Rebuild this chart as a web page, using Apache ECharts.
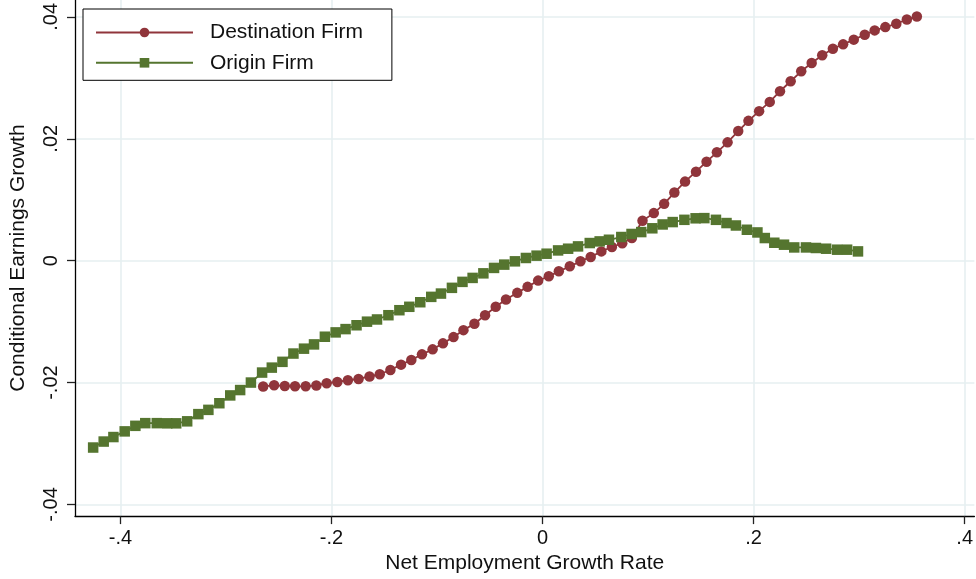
<!DOCTYPE html>
<html>
<head>
<meta charset="utf-8">
<script src="https://cdn.jsdelivr.net/npm/echarts@6/dist/echarts.min.js"></script>
<style>
html,body{margin:0;padding:0;background:#fff;}
#chart{width:976px;height:579px;}
</style>
</head>
<body>
<div id="chart"></div>
<script>
// ---- Data ----
const destX = [-0.2648,-0.2544,-0.2443,-0.2346,-0.2245,-0.2144,-0.2046,-0.1945,-0.1845,-0.1744,
  -0.1640,-0.1543,-0.1442,-0.1341,-0.1244,-0.1143,-0.1042,-0.0944,-0.0844,-0.0750,
  -0.0646,-0.0545,-0.0444,-0.0347,-0.0240,-0.0142,-0.0042,0.0059,0.0154,0.0258,
  0.0359,0.0456,0.0557,0.0657,0.0755,0.0846,0.0947,0.1054,0.1152,0.1249,
  0.1350,0.1454,0.1554,0.1652,0.1753,0.1854,0.1951,0.2052,0.2153,0.2250,
  0.2351,0.2451,0.2550,0.2650,0.2751,0.2848,0.2949,0.3053,0.3147,0.3248,
  0.3352,0.3452,0.3547];
const destY = [-0.02064,-0.02044,-0.02056,-0.02061,-0.02061,-0.02047,-0.02011,-0.01990,-0.01962,-0.01941,
  -0.01900,-0.01864,-0.01794,-0.01706,-0.01630,-0.01537,-0.01455,-0.01357,-0.01254,-0.01140,
  -0.01034,-0.00895,-0.00757,-0.00638,-0.00528,-0.00430,-0.00327,-0.00257,-0.00175,-0.00093,
  -0.00011,0.00061,0.00152,0.00224,0.00286,0.00371,0.00654,0.00780,0.00932,0.01117,
  0.01297,0.01460,0.01624,0.01778,0.01941,0.02126,0.02294,0.02453,0.02605,0.02780,
  0.02944,0.03107,0.03243,0.03369,0.03478,0.03549,0.03626,0.03707,0.03778,0.03832,
  0.03887,0.03957,0.04006];

const origX = [-0.4259,-0.4159,-0.4067,-0.3960,-0.3859,-0.3765,-0.3656,-0.3557,-0.3472,-0.3368,
  -0.3262,-0.3167,-0.3063,-0.2960,-0.2866,-0.2764,-0.2658,-0.2566,-0.2465,-0.2361,
  -0.2261,-0.2166,-0.2063,-0.1961,-0.1867,-0.1763,-0.1664,-0.1569,-0.1461,-0.1357,
  -0.1263,-0.1159,-0.1055,-0.0963,-0.0859,-0.0759,-0.0663,-0.0561,-0.0460,-0.0363,
  -0.0262,-0.0158,-0.0057,0.0038,0.0147,0.0242,0.0336,0.0447,0.0541,0.0629,
  0.0746,0.0843,0.0935,0.1040,0.1138,0.1233,0.1344,0.1450,0.1533,0.1643,
  0.1743,0.1832,0.1936,0.2036,0.2106,0.2196,0.2288,0.2385,0.2496,0.2590,
  0.2687,0.2791,0.2886,0.2989];
const origY = [-0.03066,-0.02968,-0.02894,-0.02801,-0.02710,-0.02666,-0.02666,-0.02669,-0.02669,-0.02636,
  -0.02518,-0.02448,-0.02339,-0.02211,-0.02123,-0.02000,-0.01836,-0.01755,-0.01660,-0.01524,
  -0.01444,-0.01374,-0.01248,-0.01177,-0.01123,-0.01060,-0.01001,-0.00965,-0.00895,-0.00813,
  -0.00757,-0.00682,-0.00594,-0.00540,-0.00446,-0.00348,-0.00283,-0.00208,-0.00119,-0.00065,
  -0.00011,0.00044,0.00082,0.00114,0.00168,0.00196,0.00234,0.00289,0.00316,0.00343,
  0.00388,0.00438,0.00469,0.00531,0.00594,0.00633,0.00670,0.00695,0.00698,0.00670,
  0.00617,0.00577,0.00507,0.00463,0.00371,0.00294,0.00262,0.00217,0.00217,0.00208,
  0.00196,0.00180,0.00180,0.00152];

const xTickVals = [-0.4,-0.2,0,0.2,0.4];
const xTickLabels = ['-.4','-.2','0','.2','.4'];
const yTickVals = [-0.04,-0.02,0,0.02,0.04];
const yTickLabels = ['-.04','-.02','0','.02','.04'];

const seriesNames = ['Destination Firm','Origin Firm'];
const xTitle = 'Net Employment Growth Rate';
const yTitle = 'Conditional Earnings Growth';

// ---- Build ----
const zip = (xs, ys) => xs.map((x, i) => [x, ys[i]]);
const lookup = (vals, labels) => v => {
  for (let i = 0; i < vals.length; i++) if (Math.abs(vals[i] - v) < 1e-9) return labels[i];
  return '';
};
const FONT = 'Liberation Sans, Arial, Helvetica, sans-serif';
const RED = '#90353b', GREEN = '#55752f';

const chart = echarts.init(document.getElementById('chart'), null, {renderer: 'canvas'});
chart.setOption({
  animation: false,
  backgroundColor: '#ffffff',
  grid: {left: 73.5, right: 0, top: 0, bottom: 61.7, containLabel: false},
  legend: {
    left: 83, top: 9,
    orient: 'vertical',
    backgroundColor: '#ffffff',
    borderColor: '#000000', borderWidth: 1, borderRadius: 0,
    padding: [13, 29, 7, 12],
    itemWidth: 97, itemHeight: 12, itemGap: 9.3,
    textStyle: {fontFamily: FONT, fontSize: 21, color: '#111', padding: [0, 0, 0, 12]},
    data: seriesNames
  },
  xAxis: {
    type: 'value',
    min: -0.4431, max: 0.4092,
    name: xTitle, nameLocation: 'middle', nameGap: 36,
    nameTextStyle: {fontFamily: FONT, fontSize: 21, color: '#111'},
    axisLine: {show: true, onZero: false, lineStyle: {color: '#000', width: 1.3}},
    axisTick: {show: true, length: 8, customValues: xTickVals, lineStyle: {color: '#222', width: 1.3}},
    axisLabel: {customValues: xTickVals, formatter: lookup(xTickVals, xTickLabels), margin: 12,
      fontFamily: FONT, fontSize: 20, color: '#111'},
    splitLine: {show: true, lineStyle: {color: '#e6eff1', width: 1.6}}
  },
  yAxis: {
    type: 'value',
    min: -0.04191, max: 0.04276,
    name: yTitle, nameLocation: 'middle', nameGap: 46, nameRotate: 90,
    nameTextStyle: {fontFamily: FONT, fontSize: 21, color: '#111'},
    axisLine: {show: true, onZero: false, lineStyle: {color: '#000', width: 1.3}},
    axisTick: {show: true, length: 8, customValues: yTickVals, lineStyle: {color: '#222', width: 1.3}},
    axisLabel: {customValues: yTickVals, formatter: lookup(yTickVals, yTickLabels), rotate: 90, margin: 14,
      fontFamily: FONT, fontSize: 20, color: '#111'},
    splitLine: {show: true, lineStyle: {color: '#e6eff1', width: 1.6}}
  },
  series: [
    {
      name: seriesNames[0], type: 'line', data: zip(destX, destY),
      symbol: 'circle', symbolSize: 10.5,
      itemStyle: {color: RED}, lineStyle: {color: RED, width: 1.8},
      clip: false
    },
    {
      name: seriesNames[1], type: 'line', data: zip(origX, origY),
      symbol: 'rect', symbolSize: 10.5,
      itemStyle: {color: GREEN}, lineStyle: {color: GREEN, width: 1.8},
      clip: false
    }
  ]
});
</script>
</body>
</html>
